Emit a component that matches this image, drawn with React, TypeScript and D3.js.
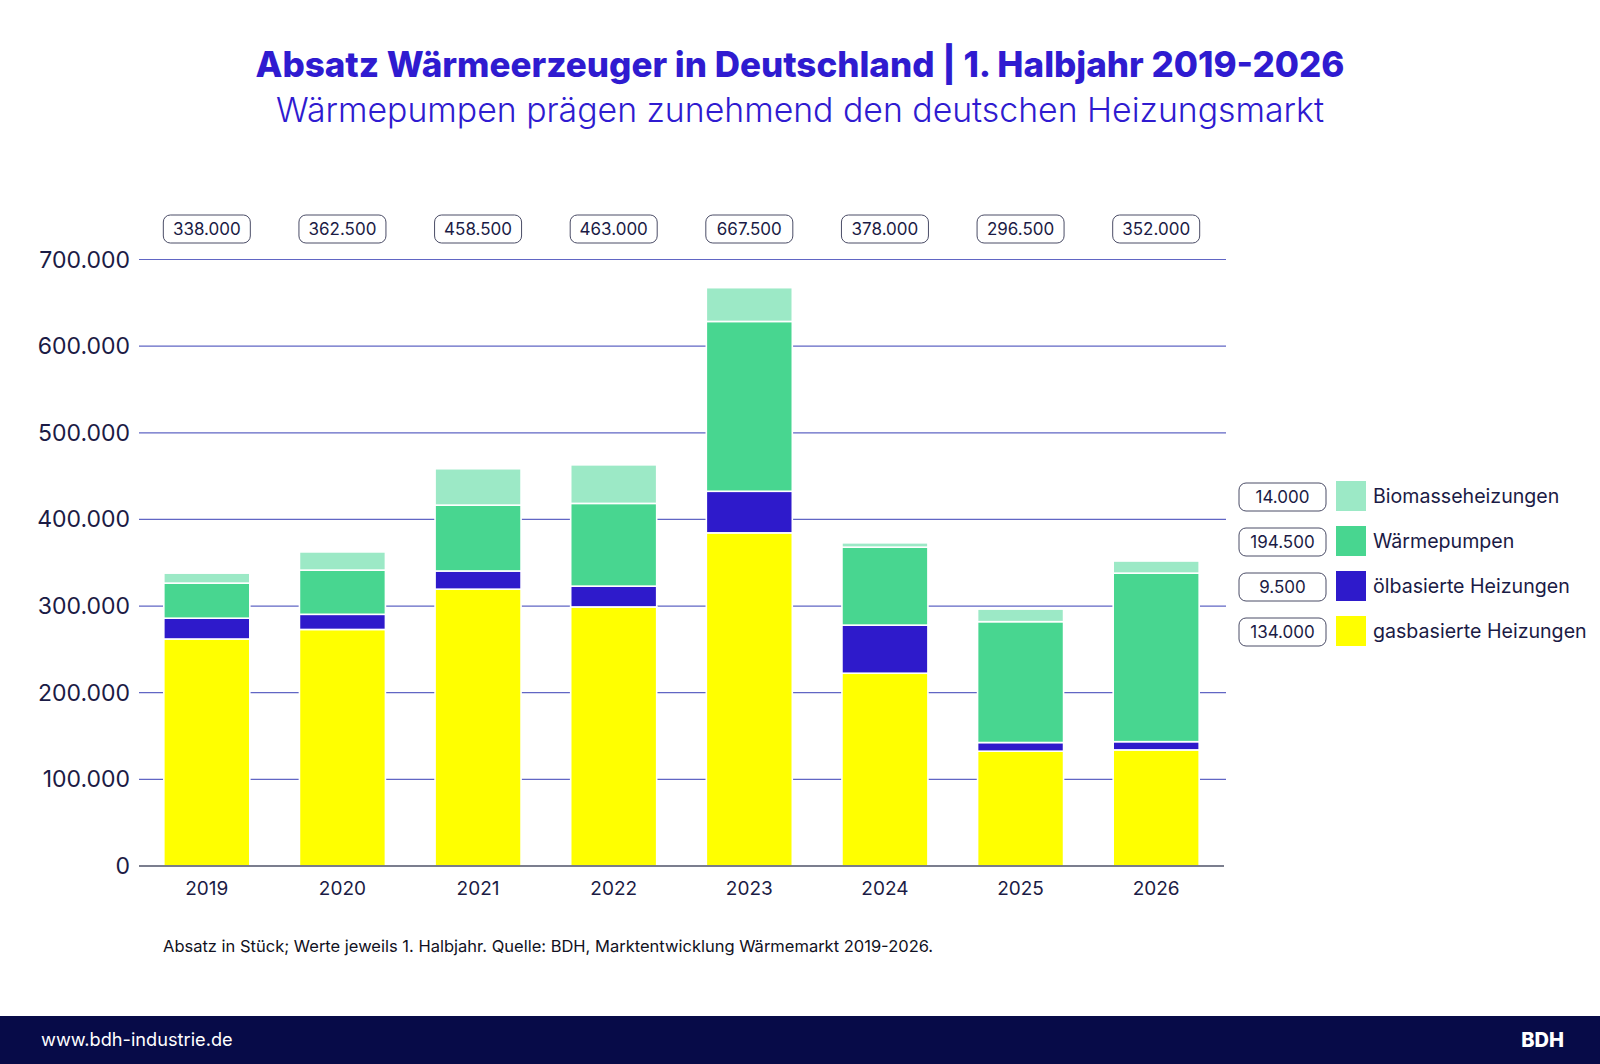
import React, { useEffect, useRef } from "react";
import * as d3 from "d3";

const years = ["2019", "2020", "2021", "2022", "2023", "2024", "2025", "2026"];

// Absatz in Stück, je 1. Halbjahr
const gas = [262000, 273000, 319500, 299000, 384500, 222500, 132500, 134000];
const oil = [24000, 17500, 21000, 24000, 48000, 55500, 10000, 9500];
const heatPumps = [40500, 51000, 76000, 95500, 196000, 90000, 139500, 194500];
const biomass = [11500, 21000, 42000, 44500, 39000, 5000, 14500, 14000];

// reported totals shown above the bars
const totals = [338000, 362500, 458500, 463000, 667500, 378000, 296500, 352000];

const yTicks = [0, 100000, 200000, 300000, 400000, 500000, 600000, 700000];

const seriesKeys = ["gas", "oil", "heatPumps", "biomass"];
const seriesLabels: Record<string, string> = {
  gas: "gasbasierte Heizungen",
  oil: "ölbasierte Heizungen",
  heatPumps: "Wärmepumpen",
  biomass: "Biomasseheizungen",
};
const seriesColors: Record<string, string> = {
  gas: "#ffff00",
  oil: "#2e1acb",
  heatPumps: "#48d690",
  biomass: "#9ce9c6",
};

const de = d3.formatLocale({
  decimal: ",",
  thousands: ".",
  grouping: [3],
  currency: ["", " €"],
});
const fmt = de.format(",");

const W = 1600;
const H = 1064;
const FONT = "Inter, 'Noto Sans', sans-serif";
const NAVY = "#1b1b45";

const App: React.FC = () => {
  const svgRef = useRef<SVGSVGElement>(null);

  useEffect(() => {
    if (!svgRef.current) return;
    const svg = d3.select(svgRef.current);
    svg.selectAll("*").remove();

    const rows = years.map((year, i) => ({
      year,
      gas: gas[i],
      oil: oil[i],
      heatPumps: heatPumps[i],
      biomass: biomass[i],
    }));

    const x = d3
      .scaleBand()
      .domain(years)
      .range([139, 1224])
      .paddingInner(0.366)
      .paddingOuter(0.183);

    const y = d3.scaleLinear().domain([0, 700000]).range([866, 259.5]);

    // Title
    svg
      .append("text")
      .attr("x", 800)
      .attr("y", 77)
      .attr("text-anchor", "middle")
      .attr("fill", "#2f1bd0")
      .style("font-family", FONT)
      .style("font-size", "35px")
      .style("font-weight", "800")
      .text("Absatz Wärmeerzeuger in Deutschland | 1. Halbjahr 2019-2026");

    svg
      .append("text")
      .attr("x", 800)
      .attr("y", 122)
      .attr("text-anchor", "middle")
      .attr("fill", "#2f1bd0")
      .style("font-family", FONT)
      .style("font-size", "33.8px")
      .style("font-weight", "300")
      .text("Wärmepumpen prägen zunehmend den deutschen Heizungsmarkt");

    // Gridlines + y labels
    const grid = svg.append("g");
    grid
      .selectAll("line")
      .data(yTicks.filter((t) => t > 0))
      .enter()
      .append("line")
      .attr("x1", 139)
      .attr("x2", 1226)
      .attr("y1", (d) => y(d))
      .attr("y2", (d) => y(d))
      .attr("stroke", "#6166c4")
      .attr("stroke-width", 1.2);

    grid
      .selectAll("text")
      .data(yTicks)
      .enter()
      .append("text")
      .attr("x", 130)
      .attr("y", (d) => y(d))
      .attr("dy", "0.35em")
      .attr("text-anchor", "end")
      .attr("fill", NAVY)
      .style("font-family", FONT)
      .style("font-size", "23px")
      .text((d) => fmt(d));

    // Stacked bars
    const stacked = d3.stack<any>().keys(seriesKeys)(rows);
    svg
      .append("g")
      .selectAll("g")
      .data(stacked)
      .enter()
      .append("g")
      .attr("fill", (s) => seriesColors[s.key])
      .selectAll("rect")
      .data((s) => s)
      .enter()
      .append("rect")
      .attr("x", (d: any) => x(d.data.year) || 0)
      .attr("y", (d) => y(d[1]))
      .attr("width", x.bandwidth())
      .attr("height", (d) => Math.max(0, y(d[0]) - y(d[1])))
      .attr("stroke", "#ffffff")
      .attr("stroke-width", 1.6);

    // Zero axis
    svg
      .append("line")
      .attr("x1", 139)
      .attr("x2", 1224)
      .attr("y1", y(0))
      .attr("y2", y(0))
      .attr("stroke", "#4f5368")
      .attr("stroke-width", 1.6);

    // X labels
    svg
      .append("g")
      .selectAll("text")
      .data(years)
      .enter()
      .append("text")
      .attr("x", (d) => (x(d) || 0) + x.bandwidth() / 2)
      .attr("y", 895)
      .attr("text-anchor", "middle")
      .attr("fill", NAVY)
      .style("font-family", FONT)
      .style("font-size", "19px")
      .text((d) => d);

    // Total pills
    const pills = svg
      .append("g")
      .selectAll("g")
      .data(years)
      .enter()
      .append("g")
      .attr(
        "transform",
        (d) => `translate(${(x(d) || 0) + x.bandwidth() / 2},229)`
      );
    pills
      .append("rect")
      .attr("x", -43.5)
      .attr("y", -14)
      .attr("width", 87)
      .attr("height", 28)
      .attr("rx", 7)
      .attr("fill", "#ffffff")
      .attr("stroke", "#4a4c66")
      .attr("stroke-width", 1);
    pills
      .append("text")
      .attr("dy", "0.36em")
      .attr("text-anchor", "middle")
      .attr("fill", NAVY)
      .style("font-family", FONT)
      .style("font-size", "17px")
      .text((_, i) => fmt(totals[i]));

    // Legend (values of the latest year)
    const last = rows[rows.length - 1] as any;
    const legendKeys = [...seriesKeys].reverse();
    const legend = svg
      .append("g")
      .selectAll("g")
      .data(legendKeys)
      .enter()
      .append("g")
      .attr("transform", (_, i) => `translate(1239,${481 + i * 45})`);
    legend
      .append("rect")
      .attr("x", 0)
      .attr("y", 2)
      .attr("width", 87)
      .attr("height", 28)
      .attr("rx", 7)
      .attr("fill", "#ffffff")
      .attr("stroke", "#4a4c66")
      .attr("stroke-width", 1);
    legend
      .append("text")
      .attr("x", 43.5)
      .attr("y", 16)
      .attr("dy", "0.36em")
      .attr("text-anchor", "middle")
      .attr("fill", NAVY)
      .style("font-family", FONT)
      .style("font-size", "17px")
      .text((k) => fmt(last[k]));
    legend
      .append("rect")
      .attr("x", 97)
      .attr("y", 0)
      .attr("width", 30)
      .attr("height", 30)
      .attr("fill", (k) => seriesColors[k]);
    legend
      .append("text")
      .attr("x", 134)
      .attr("y", 15)
      .attr("dy", "0.35em")
      .attr("fill", NAVY)
      .style("font-family", FONT)
      .style("font-size", "19.6px")
      .text((k) => seriesLabels[k]);

    // Footnote
    svg
      .append("text")
      .attr("x", 163)
      .attr("y", 952)
      .attr("fill", "#111122")
      .style("font-family", FONT)
      .style("font-size", "16.5px")
      .text(
        "Absatz in Stück; Werte jeweils 1. Halbjahr. Quelle: BDH, Marktentwicklung Wärmemarkt 2019-2026."
      );

    // Footer band
    svg
      .append("rect")
      .attr("x", 0)
      .attr("y", 1016)
      .attr("width", W)
      .attr("height", H - 1016)
      .attr("fill", "#070b48");
    svg
      .append("text")
      .attr("x", 41)
      .attr("y", 1040)
      .attr("dy", "0.35em")
      .attr("fill", "#ffffff")
      .style("font-family", FONT)
      .style("font-size", "18.2px")
      .text("www.bdh-industrie.de");
    svg
      .append("text")
      .attr("x", 1564)
      .attr("y", 1040)
      .attr("dy", "0.35em")
      .attr("text-anchor", "end")
      .attr("fill", "#ffffff")
      .style("font-family", FONT)
      .style("font-size", "20px")
      .style("font-weight", "800")
      .text("BDH");
  }, []);

  return (
    <svg
      ref={svgRef}
      width={W}
      height={H}
      style={{ position: "absolute", left: 0, top: 0, background: "#ffffff" }}
    ></svg>
  );
};

export default App;
